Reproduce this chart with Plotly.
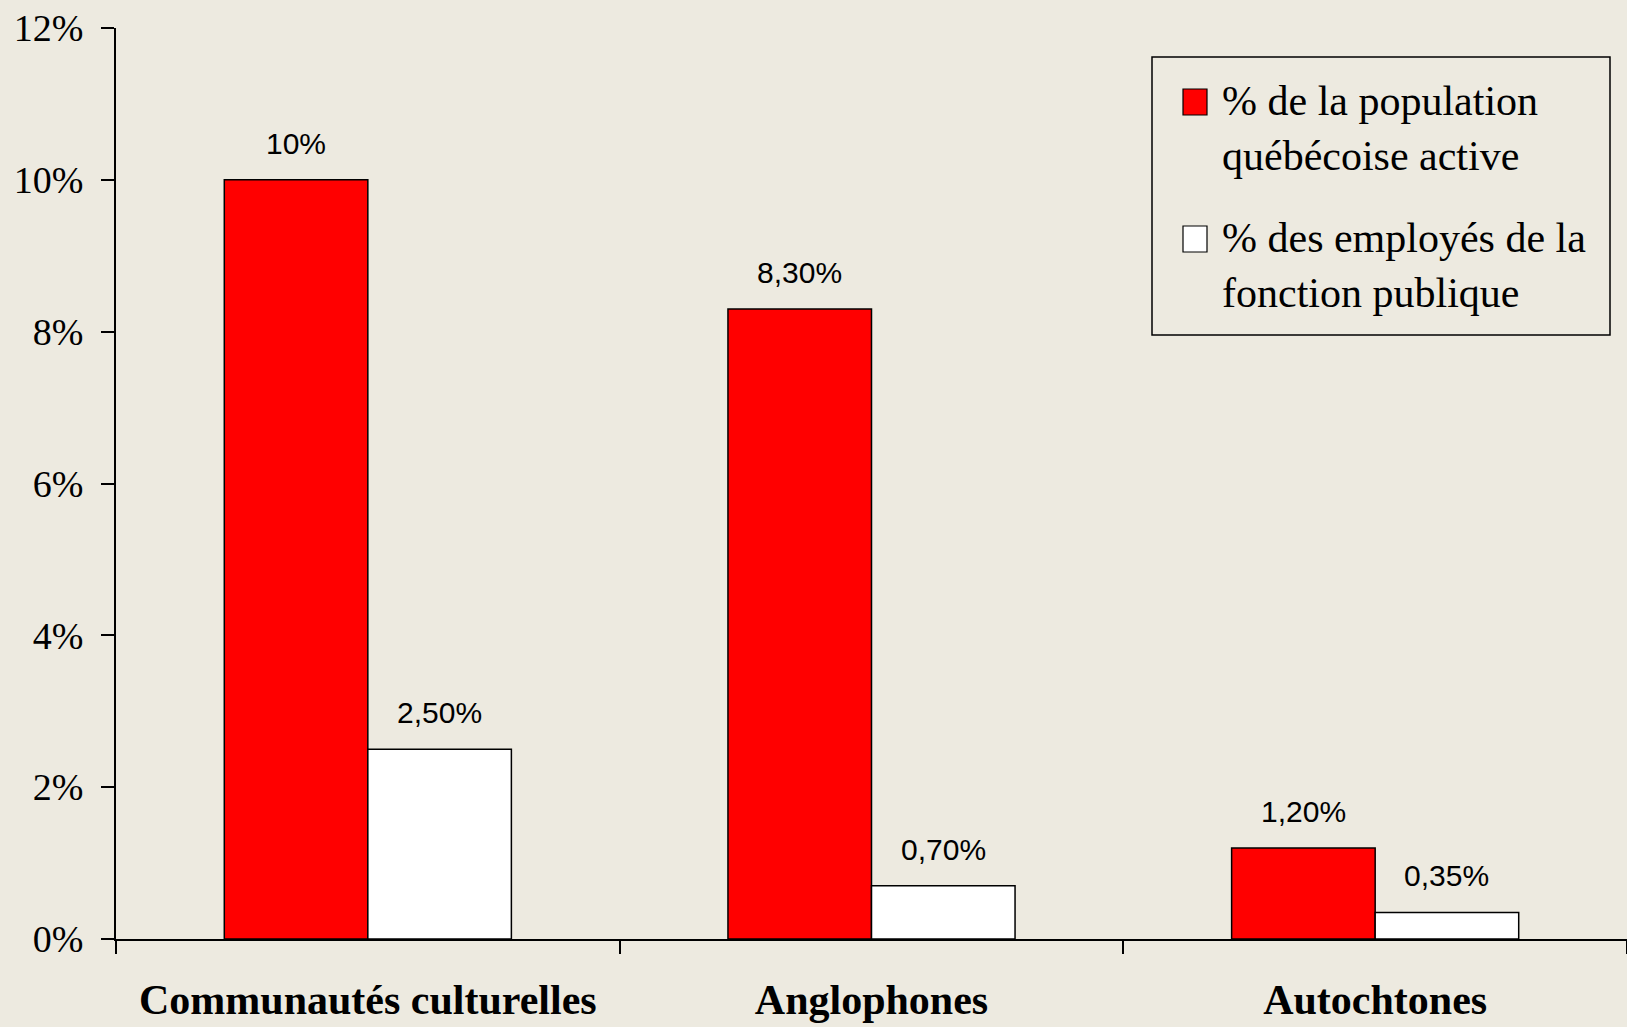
import plotly.graph_objects as go

categories = ["Communautés culturelles", "Anglophones", "Autochtones"]
pop_active = [0.10, 0.083, 0.012]
fonction_publique = [0.025, 0.007, 0.0035]
pop_labels = ["10%", "8,30%", "1,20%"]
fp_labels = ["2,50%", "0,70%", "0,35%"]
series_names = ["% de la population<br>québécoise active", "% des employés de la<br>fonction publique"]
y_ticks = [0, 0.02, 0.04, 0.06, 0.08, 0.10, 0.12]

BG = "#EDEAE0"
W, H = 1627, 1027
ML, MR, MT, MB = 116, 0, 28, 88
BARGAP = 0.43

fig = go.Figure()
fig.add_trace(go.Bar(x=categories, y=pop_active, name=series_names[0],
                     marker=dict(color="#FF0000", line=dict(color="black", width=1.5)),
                     showlegend=False))
fig.add_trace(go.Bar(x=categories, y=fonction_publique, name=series_names[1],
                     marker=dict(color="#FFFFFF", line=dict(color="black", width=1.5)),
                     showlegend=False))

# bar value labels
cat_px = (W - ML - MR) / len(categories)
half_bar = cat_px * (1 - BARGAP) / 4
label_font = dict(family="Liberation Sans, Arial", size=30, color="black")
annotations = []
for cat, v, t in zip(categories, pop_active, pop_labels):
    annotations.append(dict(x=cat, y=v, xref="x", yref="y", text=t, showarrow=False,
                            yanchor="bottom", xshift=-half_bar, yshift=18, font=label_font))
for cat, v, t in zip(categories, fonction_publique, fp_labels):
    annotations.append(dict(x=cat, y=v, xref="x", yref="y", text=t, showarrow=False,
                            yanchor="bottom", xshift=half_bar, yshift=18, font=label_font))

# manual legend
legend_font = dict(family="Liberation Serif, Times New Roman", size=42, color="black")
def px_x(p):
    return (p - ML) / (W - ML - MR)
def px_y(p):
    return 1 - (p - MT) / (H - MT - MB)

shapes = [
    dict(type="rect", xref="paper", yref="paper", x0=px_x(1152), x1=px_x(1610), y0=px_y(57), y1=px_y(335),
         line=dict(color="black", width=1.5), fillcolor=BG, layer="above"),
    dict(type="rect", xref="paper", yref="paper", x0=px_x(1183), x1=px_x(1207), y0=px_y(89), y1=px_y(115),
         line=dict(color="black", width=1.2), fillcolor="#FF0000", layer="above"),
    dict(type="rect", xref="paper", yref="paper", x0=px_x(1183), x1=px_x(1207), y0=px_y(226), y1=px_y(252),
         line=dict(color="black", width=1.2), fillcolor="#FFFFFF", layer="above"),
]
annotations.append(dict(xref="paper", yref="paper", x=px_x(1220), y=px_y(76), xanchor="left", yanchor="top",
                        align="left", text=series_names[0], showarrow=False, font=legend_font))
annotations.append(dict(xref="paper", yref="paper", x=px_x(1220), y=px_y(213), xanchor="left", yanchor="top",
                        align="left", text=series_names[1], showarrow=False, font=legend_font))

fig.update_layout(
    width=W, height=H,
    margin=dict(l=ML, r=MR, t=MT, b=MB),
    paper_bgcolor=BG, plot_bgcolor=BG,
    barmode="group", bargap=BARGAP, bargroupgap=0,
    annotations=annotations, shapes=shapes,
    showlegend=False,
)
fig.update_xaxes(
    type="category", range=[-0.5, 2.5], tickson="boundaries",
    ticks="outside", ticklen=13, tickwidth=2, tickcolor="black",
    showline=True, linecolor="black", linewidth=2, showgrid=False, zeroline=False,
    tickfont=dict(family="Liberation Serif, Times New Roman", size=42, color="black"),
    ticklabelstandoff=23,
)
fig.update_yaxes(
    range=[0, 0.12], tickvals=y_ticks, tickformat=".0%",
    ticks="outside", ticklen=13, tickwidth=2, tickcolor="black",
    showline=True, linecolor="black", linewidth=2, showgrid=False, zeroline=False,
    tickfont=dict(family="Liberation Serif, Times New Roman", size=38, color="black"),
    ticklabelstandoff=10,
)
fig.update_xaxes(ticktext=["<b>" + c + "</b>" for c in categories], tickvals=categories)

fig.write_html("out.html", config={"displayModeBar": False},
               post_script="document.body.style.margin='0';document.body.style.overflow='hidden';")
